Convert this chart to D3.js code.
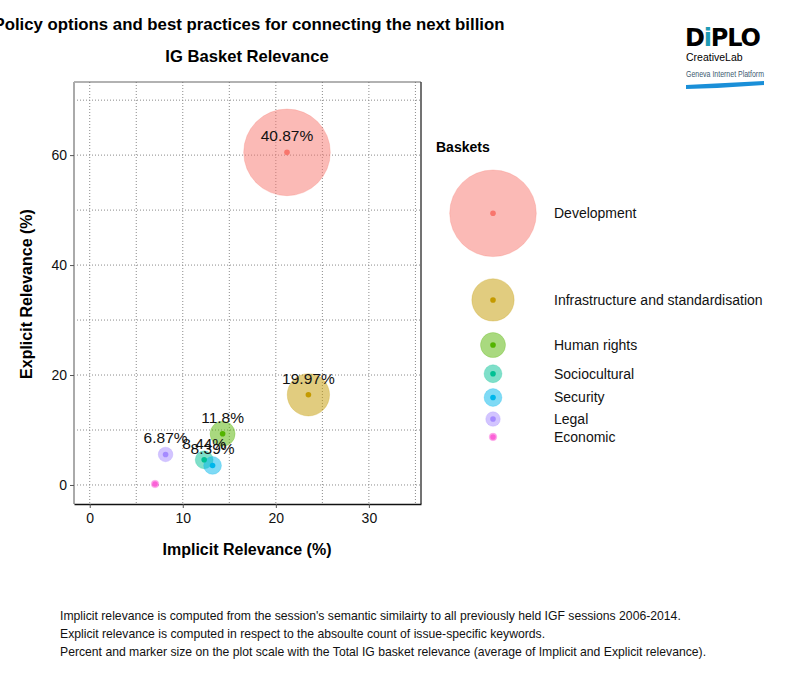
<!DOCTYPE html>
<html>
<head>
<meta charset="utf-8">
<script src="https://cdn.jsdelivr.net/npm/d3@7"></script>
<style>
  html, body { margin: 0; padding: 0; background: #fff; }
  svg { display: block; font-family: "Liberation Sans", Arial, sans-serif; }
</style>
</head>
<body>
<svg id="chart" width="800" height="700"></svg>
<script>
// ---- data ----
const baskets = ["Development", "Infrastructure and standardisation", "Human rights", "Sociocultural", "Security", "Legal", "Economic"];
const implicitRel = [21.2, 23.5, 14.28, 12.3, 13.2, 8.15, 7.02];
const explicitRel = [60.5, 16.4, 9.32, 4.58, 3.55, 5.55, 0.18];
const totalRel   = [40.87, 19.97, 11.8, 8.44, 8.39, 6.87, 3.6];
const pointLabels = ["40.87%", "19.97%", "11.8%", "8.44%", "8.39%", "6.87%", ""];
const colors = ["#F8766D", "#C49A00", "#53B400", "#00C094", "#00B6EB", "#A58AFF", "#FB61D7"];
const xTicks = [0, 10, 20, 30];
const yTicks = [0, 20, 40, 60];
const xGrid = [0, 5, 10, 15, 20, 25, 30, 35];
const yGrid = [0, 10, 20, 30, 40, 50, 60, 70];
const footnotes = [
  "Implicit relevance is computed from the session's semantic similairty to all previously held IGF sessions 2006-2014.",
  "Explicit relevance is computed in respect to the absoulte count of issue-specific keywords.",
  "Percent and marker size on the plot scale with the Total IG basket relevance (average of Implicit and Explicit relevance)."
];

const svg = d3.select("#chart");
const panel = { left: 74, right: 421, top: 82, bottom: 504 };

const x = d3.scaleLinear().domain([-1.69, 35.6]).range([panel.left, panel.right]);
const y = d3.scaleLinear().domain([-3.46, 73.3]).range([panel.bottom, panel.top]);
const r = d3.scaleLinear().domain([0, 40.87]).range([0, 43.3]);

// titles
svg.append("text").attr("x", 249).attr("y", 30).attr("text-anchor", "middle")
  .attr("font-weight", "bold").attr("font-size", 16.8).text("Policy options and best practices for connecting the next billion");
svg.append("text").attr("x", 247).attr("y", 62).attr("text-anchor", "middle")
  .attr("font-weight", "bold").attr("font-size", 16.6).text("IG Basket Relevance");

// grid
const g = svg.append("g");
g.selectAll(".gx").data(xGrid).join("line")
  .attr("x1", d => x(d)).attr("x2", d => x(d)).attr("y1", panel.top).attr("y2", panel.bottom)
  .attr("stroke", "#8a8a8a").attr("stroke-width", 1).attr("stroke-dasharray", "1,2");
g.selectAll(".gy").data(yGrid).join("line")
  .attr("y1", d => y(d)).attr("y2", d => y(d)).attr("x1", panel.left).attr("x2", panel.right)
  .attr("stroke", "#8a8a8a").attr("stroke-width", 1).attr("stroke-dasharray", "1,2");

// panel border
svg.append("line").attr("x1", panel.left).attr("x2", panel.right).attr("y1", panel.top).attr("y2", panel.top)
  .attr("stroke", "#666").attr("stroke-width", 1.2);
svg.append("line").attr("x1", panel.right).attr("x2", panel.right).attr("y1", panel.top).attr("y2", panel.bottom)
  .attr("stroke", "#444").attr("stroke-width", 1.5);
svg.append("line").attr("x1", panel.left).attr("x2", panel.left).attr("y1", panel.top).attr("y2", panel.bottom)
  .attr("stroke", "#aaa").attr("stroke-width", 2);

// axes
const xAxis = svg.append("g").attr("transform", `translate(0,${panel.bottom})`)
  .call(d3.axisBottom(x).tickValues(xTicks).tickSize(4).tickPadding(5).tickSizeOuter(0));
xAxis.select(".domain").attr("stroke", "#111").attr("stroke-width", 1.5);
xAxis.selectAll(".tick line").attr("stroke", "#555");
xAxis.selectAll("text").attr("font-size", 14).attr("font-family", "Liberation Sans, Arial, sans-serif").attr("fill", "#111");

const yAxis = svg.append("g").attr("transform", `translate(${panel.left},0)`)
  .call(d3.axisLeft(y).tickValues(yTicks).tickSize(4).tickPadding(3).tickSizeOuter(0));
yAxis.select(".domain").remove();
yAxis.selectAll(".tick line").attr("stroke", "#555");
yAxis.selectAll("text").attr("font-size", 14).attr("font-family", "Liberation Sans, Arial, sans-serif").attr("fill", "#111");

// axis titles
svg.append("text").attr("x", 247).attr("y", 555).attr("text-anchor", "middle")
  .attr("font-weight", "bold").attr("font-size", 16).text("Implicit Relevance (%)");
svg.append("text").attr("transform", "translate(32,294) rotate(-90)").attr("text-anchor", "middle")
  .attr("font-weight", "bold").attr("font-size", 16).text("Explicit Relevance (%)");

// bubbles
const data = baskets.map((b, i) => ({ name: b, xv: implicitRel[i], yv: explicitRel[i], t: totalRel[i], lab: pointLabels[i], c: colors[i] }));
const pts = svg.append("g");
pts.selectAll(".bub").data(data).join("circle")
  .attr("cx", d => x(d.xv)).attr("cy", d => y(d.yv)).attr("r", d => r(d.t))
  .attr("fill", d => d.c).attr("fill-opacity", 0.5)
  .attr("stroke", d => d.c).attr("stroke-opacity", 0.25).attr("stroke-width", 1);
pts.selectAll(".dot").data(data).join("circle")
  .attr("cx", d => x(d.xv)).attr("cy", d => y(d.yv)).attr("r", 2.8)
  .attr("fill", d => d.c);
pts.selectAll(".lab").data(data).join("text")
  .attr("x", d => x(d.xv)).attr("y", d => y(d.yv) - 11)
  .attr("text-anchor", "middle").attr("font-size", 15.5).attr("fill", "#111")
  .text(d => d.lab);

// legend
const lg = svg.append("g");
lg.append("text").attr("x", 436).attr("y", 152).attr("font-weight", "bold").attr("font-size", 14).text("Baskets");
let cy = 170;
const legendPos = data.map(d => {
  const h = Math.max(1.348 * 2 * r(d.t) - 0.25, 16.4);
  const c = cy + h / 2;
  cy += h;
  return c;
});
const shift = 213.3 - legendPos[0];
const lx = 493;
lg.selectAll(".lb").data(data).join("circle")
  .attr("cx", lx).attr("cy", (d, i) => legendPos[i] + shift).attr("r", d => r(d.t))
  .attr("fill", d => d.c).attr("fill-opacity", 0.5)
  .attr("stroke", d => d.c).attr("stroke-opacity", 0.25);
lg.selectAll(".ld").data(data).join("circle")
  .attr("cx", lx).attr("cy", (d, i) => legendPos[i] + shift).attr("r", 2.8).attr("fill", d => d.c);
lg.selectAll(".lt").data(data).join("text")
  .attr("x", 554).attr("y", (d, i) => legendPos[i] + shift).attr("dy", "0.35em")
  .attr("font-size", 14).attr("fill", "#111").text(d => d.name);

// footnotes
svg.selectAll(".fn").data(footnotes).join("text")
  .attr("x", 60).attr("y", (d, i) => 620 + i * 18)
  .attr("font-size", 12.2).attr("fill", "#111")
  .attr("font-family", "Liberation Sans Narrow, Liberation Sans, Arial, sans-serif")
  .text(d => d);

// logo
const logo = svg.append("g");
const dip = logo.append("text").attr("x", 685).attr("y", 46).attr("font-family", "DejaVu Sans, sans-serif")
  .attr("font-weight", "900").attr("font-size", 24).attr("letter-spacing", -1.2);
dip.append("tspan").text("D");
dip.append("tspan").attr("fill", "#1f9bb5").text("i");
dip.append("tspan").text("PLO");
logo.append("text").attr("x", 686).attr("y", 61).attr("font-size", 10.5).text("CreativeLab");
logo.append("text").attr("x", 686).attr("y", 77).attr("font-size", 8.5).attr("fill", "#3d5a70")
  .attr("textLength", 78).attr("lengthAdjust", "spacingAndGlyphs")
  .attr("font-family", "Liberation Sans Narrow, Liberation Sans, sans-serif").text("Geneva Internet Platform");
logo.append("path").attr("d", "M686,85 Q725,83 764,81 L764,85 Q725,88 686,89 Z").attr("fill", "#1a8fd8");
</script>
</body>
</html>
